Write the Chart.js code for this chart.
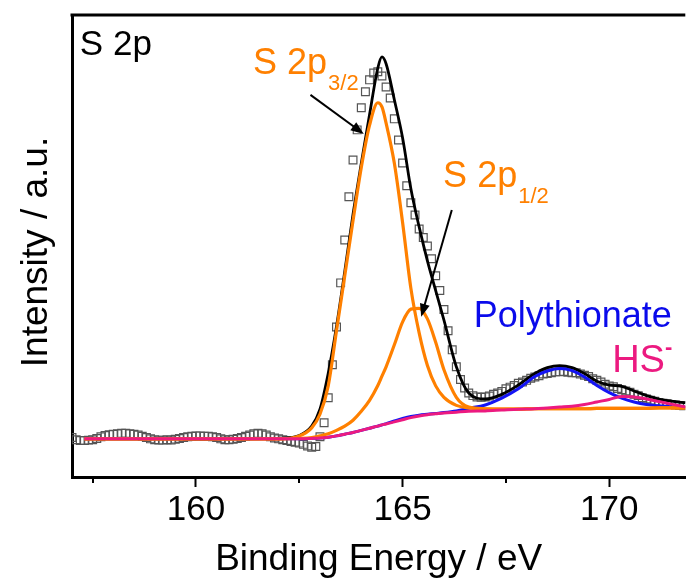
<!DOCTYPE html>
<html>
<head>
<meta charset="utf-8">
<script src="https://cdn.jsdelivr.net/npm/chart.js@4"></script>
<style>
  html, body { margin: 0; padding: 0; background: #fff; }
  #wrap { width: 692px; height: 578px; }
</style>
</head>
<body>
<div id="wrap"><canvas id="xps" width="692" height="578"></canvas></div>
<script>
// measured S 2p spectrum (open squares), binding energy in eV
const measuredEnergy = [
  157.0, 157.1, 157.2, 157.3, 157.4, 157.5, 157.6, 157.7, 157.8, 157.9,
  158.0, 158.1, 158.2, 158.3, 158.4, 158.5, 158.6, 158.7, 158.8, 158.9,
  159.0, 159.1, 159.2, 159.3, 159.4, 159.5, 159.6, 159.7, 159.8, 159.9,
  160.0, 160.1, 160.2, 160.3, 160.4, 160.5, 160.6, 160.7, 160.8, 160.9,
  161.0, 161.1, 161.2, 161.3, 161.4, 161.5, 161.6, 161.7, 161.8, 161.9,
  162.0, 162.1, 162.2, 162.3, 162.4, 162.5, 162.6, 162.7, 162.8, 162.9,
  163.0, 163.1, 163.2, 163.3, 163.4, 163.5, 163.6, 163.7, 163.8, 163.9,
  164.0, 164.1, 164.2, 164.3, 164.4, 164.5, 164.6, 164.7, 164.8, 164.9,
  165.0, 165.1, 165.2, 165.3, 165.4, 165.5, 165.6, 165.7, 165.8, 165.9,
  166.0, 166.1, 166.2, 166.3, 166.4, 166.5, 166.6, 166.7, 166.8, 166.9,
  167.0, 167.1, 167.2, 167.3, 167.4, 167.5, 167.6, 167.7, 167.8, 167.9,
  168.0, 168.1, 168.2, 168.3, 168.4, 168.5, 168.6, 168.7, 168.8, 168.9,
  169.0, 169.1, 169.2, 169.3, 169.4, 169.5, 169.6, 169.7, 169.8, 169.9,
  170.0, 170.1, 170.2, 170.3, 170.4, 170.5, 170.6, 170.7, 170.8, 170.9,
  171.0, 171.1, 171.2, 171.3, 171.4, 171.5, 171.6, 171.7, 171.8
];
const measuredCounts = [
  0.3, -0.2, -0.4, -0.4, -0.3, -0.2, 0.1, 0.5, 0.8, 1.0,
  1.1, 1.2, 1.3, 1.3, 1.2, 1.1, 0.9, 0.6, 0.3, 0.0,
  -0.2, -0.3, -0.3, -0.2, -0.3, -0.1, 0.1, 0.3, 0.5, 0.6,
  0.7, 0.7, 0.6, 0.6, 0.5, 0.3, 0.0, -0.2, -0.2, -0.1,
  0.1, 0.3, 0.6, 0.9, 1.2, 1.3, 1.2, 0.9, 0.5, 0.2,
  0.0, -0.2, -0.4, -0.6, -0.8, -1.0, -1.3, -1.7, -2.0, -1.8,
  0.5, 3.8, 9.7, 17.5, 26.4, 36.8, 46.9, 57.1, 65.8, 72.9,
  78.1, 81.9, 84.7, 86.3, 86.6, 85.6, 83.0, 80.4, 75.5, 70.5,
  65.1, 59.7, 55.7, 52.8, 49.5, 47.5, 45.5, 42.5, 38.5, 35.0,
  30.5, 25.5, 21.0, 17.0, 14.0, 12.0, 10.8, 10.2, 9.9, 9.8,
  9.9, 10.1, 10.5, 10.8, 11.2, 11.8, 12.2, 12.6, 13.1, 13.4,
  13.8, 14.3, 14.6, 14.9, 15.3, 15.4, 15.6, 15.8, 15.8, 15.9,
  15.7, 15.6, 15.6, 15.3, 15.0, 14.7, 14.2, 13.8, 13.4, 12.9,
  12.5, 12.3, 11.9, 11.6, 11.3, 11.0, 10.5, 10.2, 9.7, 9.4,
  9.1, 8.9, 8.6, 8.4, 8.3, 8.1, 8.0, 7.9, 7.8
];

// fitted components, all on the same energy grid
const fitEnergy = [
  157.3, 158.0, 159.0, 160.0, 161.0, 162.0, 162.5, 162.8, 163.0, 163.2,
  163.4, 163.6, 163.8, 164.0, 164.2, 164.4, 164.5, 164.6, 164.8, 165.0,
  165.2, 165.4, 165.6, 165.8, 166.0, 166.3, 166.6, 167.0, 167.4, 167.8,
  168.2, 168.5, 168.8, 169.1, 169.4, 169.7, 170.0, 170.3, 170.6, 170.9,
  171.2, 171.5, 171.85
];
const envelope = [
  0, 0, 0, 0, 0, 0.1, 0.8, 3.0, 7.0, 15.5,
  26.5, 39.5, 53.0, 65.0, 76.5, 87.5, 90.1, 88.5, 80.0, 71.0,
  59.0, 50.0, 42.0, 35.0, 28.0, 17.0, 10.8, 9.4, 10.5, 12.7,
  15.4, 16.8, 17.3, 16.8, 15.4, 13.6, 12.7, 12.4, 11.3, 10.2,
  9.4, 8.9, 8.5
];
const s2p32 = [
  0, 0, 0, 0, 0, 0, 0.7, 2.6, 5.8, 12.5,
  25.5, 38.5, 51.5, 64.0, 74.0, 79.3, 78.3, 74.5, 65.0, 51.0,
  35.5, 25.0, 17.3, 12.5, 9.8, 7.9, 7.3, 7.0, 7.0, 7.0,
  7.1, 7.1, 7.1, 7.1, 7.1, 7.2, 7.2, 7.2, 7.2, 7.2,
  7.3, 7.3, 7.3
];
const s2p12 = [
  0, 0, 0, 0, 0, 0, 0.1, 0.3, 0.7, 1.2,
  2.0, 3.0, 4.4, 6.5, 9.1, 12.6, 14.8, 17.0, 22.2, 27.6,
  30.6, 30.8, 28.3, 22.8, 16.3, 9.8, 7.5, 7.1, 7.0, 7.0,
  7.1, 7.1, 7.1, 7.1, 7.1, 7.2, 7.2, 7.2, 7.2, 7.2,
  7.3, 7.3, 7.3
];
const polythionate = [
  0, 0, 0, 0, 0, 0, 0.0, 0.1, 0.2, 0.4,
  0.7, 1.1, 1.5, 2.0, 2.5, 3.0, 3.3, 3.6, 4.2, 4.8,
  5.3, 5.6, 5.8, 6.0, 6.2, 6.6, 7.2, 8.0, 9.6, 11.8,
  14.7, 16.0, 16.6, 16.1, 14.6, 12.6, 10.9, 9.6, 8.7, 8.1,
  7.8, 7.6, 7.5
];
const hsMinus = [
  0, 0, 0, 0, 0, 0, 0.0, 0.1, 0.2, 0.4,
  0.7, 1.1, 1.5, 2.0, 2.5, 3.0, 3.3, 3.5, 4.0, 4.5,
  5.0, 5.4, 5.7, 5.9, 6.1, 6.3, 6.5, 6.6, 6.8, 7.0,
  7.1, 7.3, 7.5, 7.7, 8.1, 8.7, 9.3, 10.0, 9.9, 9.4,
  8.8, 8.2, 7.5
];

const xTicks = [160, 165, 170];
const xMinorTicks = [157.5, 162.5, 167.5];

const FONT = '"Liberation Sans", Arial, Helvetica, sans-serif';
const ORANGE = '#ff8000';
const BLUE = '#1414f5';
const PINK = '#ec1a80';

// text labels and arrows, anchored in data coordinates
const notes = [
  { text: 'S 2p', x: 157.19, y: 90.6, color: '#000', size: 35 },
  { text: 'S 2p', sub: '3/2', x: 161.38, y: 86.1, color: ORANGE, size: 36 },
  { text: 'S 2p', sub: '1/2', x: 165.98, y: 59.45, color: ORANGE, size: 36 },
  { text: 'Polythionate', x: 166.72, y: 26.4, color: '#0a0aeb', size: 36 },
  { text: 'HS', sup: '-', x: 170.07, y: 15.8, color: PINK, size: 38 }
];
const arrows = [
  { from: [162.77, 81.15], to: [164.06, 71.95] },
  { from: [166.19, 54.0], to: [165.45, 28.8] }
];
const yTitle = { text: 'Intensity / a.u.', x: 37, size: 37, shift: 6 };

Chart.defaults.font.family = FONT;
Chart.defaults.color = '#000';

const toPoints = (xs, ys) => xs.map((x, i) => ({ x: x, y: ys[i] }));

function fitLine(label, ys, color, width, order) {
  return {
    label: label,
    data: toPoints(fitEnergy, ys),
    borderColor: color,
    borderWidth: width,
    pointRadius: 0,
    fill: false,
    cubicInterpolationMode: 'monotone',
    order: order
  };
}

function drawArrow(ctx, x1, y1, x2, y2) {
  const a = Math.atan2(y2 - y1, x2 - x1);
  const len = 13, half = 5;
  ctx.beginPath();
  ctx.moveTo(x1, y1);
  ctx.lineTo(x2 - Math.cos(a) * len * 0.7, y2 - Math.sin(a) * len * 0.7);
  ctx.stroke();
  ctx.beginPath();
  ctx.moveTo(x2, y2);
  ctx.lineTo(x2 - len * Math.cos(a) + half * Math.sin(a), y2 - len * Math.sin(a) - half * Math.cos(a));
  ctx.lineTo(x2 - len * Math.cos(a) - half * Math.sin(a), y2 - len * Math.sin(a) + half * Math.cos(a));
  ctx.closePath();
  ctx.fill();
}

const decorations = {
  id: 'decorations',
  afterDraw(chart) {
    const { ctx, chartArea } = chart;
    const x = chart.scales.x, y = chart.scales.y;
    ctx.save();
    ctx.strokeStyle = '#000';
    ctx.fillStyle = '#000';

    // top frame line
    ctx.lineWidth = 3;
    ctx.beginPath();
    ctx.moveTo(chartArea.left - 1.5, chartArea.top);
    ctx.lineTo(chartArea.right, chartArea.top);
    ctx.stroke();

    // minor ticks
    ctx.lineWidth = 2;
    xMinorTicks.forEach(v => {
      const px = Math.round(x.getPixelForValue(v));
      ctx.beginPath();
      ctx.moveTo(px, chartArea.bottom);
      ctx.lineTo(px, chartArea.bottom + 6);
      ctx.stroke();
    });

    // arrows
    arrows.forEach(a => {
      drawArrow(ctx,
        x.getPixelForValue(a.from[0]), y.getPixelForValue(a.from[1]),
        x.getPixelForValue(a.to[0]), y.getPixelForValue(a.to[1]));
    });

    // y axis title
    ctx.save();
    ctx.translate(yTitle.x, (chartArea.top + chartArea.bottom) / 2 + yTitle.shift);
    ctx.rotate(-Math.PI / 2);
    ctx.font = yTitle.size + 'px ' + FONT;
    ctx.fillStyle = '#000';
    ctx.textAlign = 'center';
    ctx.textBaseline = 'middle';
    ctx.fillText(yTitle.text, 0, 0);
    ctx.restore();

    // labels
    ctx.textAlign = 'left';
    ctx.textBaseline = 'alphabetic';
    notes.forEach(n => {
      const px = x.getPixelForValue(n.x), py = y.getPixelForValue(n.y);
      ctx.fillStyle = n.color;
      ctx.font = n.size + 'px ' + FONT;
      ctx.fillText(n.text, px, py);
      const w = ctx.measureText(n.text).width;
      if (n.sub) {
        ctx.font = '22px ' + FONT;
        ctx.fillText(n.sub, px + w + 1, py + 16);
      }
      if (n.sup) {
        ctx.font = 'bold 22px ' + FONT;
        ctx.fillText(n.sup, px + w, py - 18);
      }
    });
    ctx.restore();
  }
};

new Chart(document.getElementById('xps'), {
  type: 'line',
  data: {
    datasets: [
      fitLine('HS-', hsMinus, PINK, 3, 0),
      fitLine('S 2p1/2', s2p12, ORANGE, 3.2, 1),
      fitLine('S 2p3/2', s2p32, ORANGE, 3.2, 2),
      fitLine('Polythionate', polythionate, BLUE, 3, 3),
      fitLine('Envelope', envelope, '#000', 2.8, 4),
      {
        label: 'Measured',
        data: toPoints(measuredEnergy, measuredCounts),
        showLine: false,
        pointStyle: 'rect',
        pointRadius: 5.5,
        pointBorderWidth: 1.2,
        pointBorderColor: '#555',
        pointBackgroundColor: 'rgba(255,255,255,0)',
        order: 5
      }
    ]
  },
  options: {
    responsive: false,
    devicePixelRatio: 1,
    animation: false,
    events: [],
    layout: { padding: { top: 15, right: 0, bottom: 0, left: 0 } },
    plugins: {
      legend: { display: false },
      tooltip: { enabled: false }
    },
    scales: {
      x: {
        type: 'linear',
        position: 'bottom',
        min: 157,
        max: 171.84,
        afterBuildTicks: scale => { scale.ticks = xTicks.map(v => ({ value: v })); },
        afterFit: scale => { scale.height = 101; },
        ticks: {
          color: '#000',
          padding: 6,
          maxRotation: 0,
          font: { size: 35, lineHeight: 1 },
          callback: v => String(v)
        },
        grid: {
          display: true,
          drawOnChartArea: false,
          drawTicks: true,
          tickLength: 10,
          tickWidth: 2,
          tickColor: '#000'
        },
        border: { display: true, color: '#000', width: 3 },
        title: {
          display: true,
          text: 'Binding Energy / eV',
          color: '#000',
          font: { size: 37, lineHeight: 1 },
          padding: { top: 0, bottom: 0 }
        }
      },
      y: {
        type: 'linear',
        min: -9,
        max: 100,
        afterFit: scale => { scale.width = 72; },
        ticks: { display: false },
        grid: { display: false, drawTicks: false },
        border: { display: true, color: '#000', width: 3 },
        title: { display: false }
      }
    }
  },
  plugins: [decorations]
});
</script>
</body>
</html>
